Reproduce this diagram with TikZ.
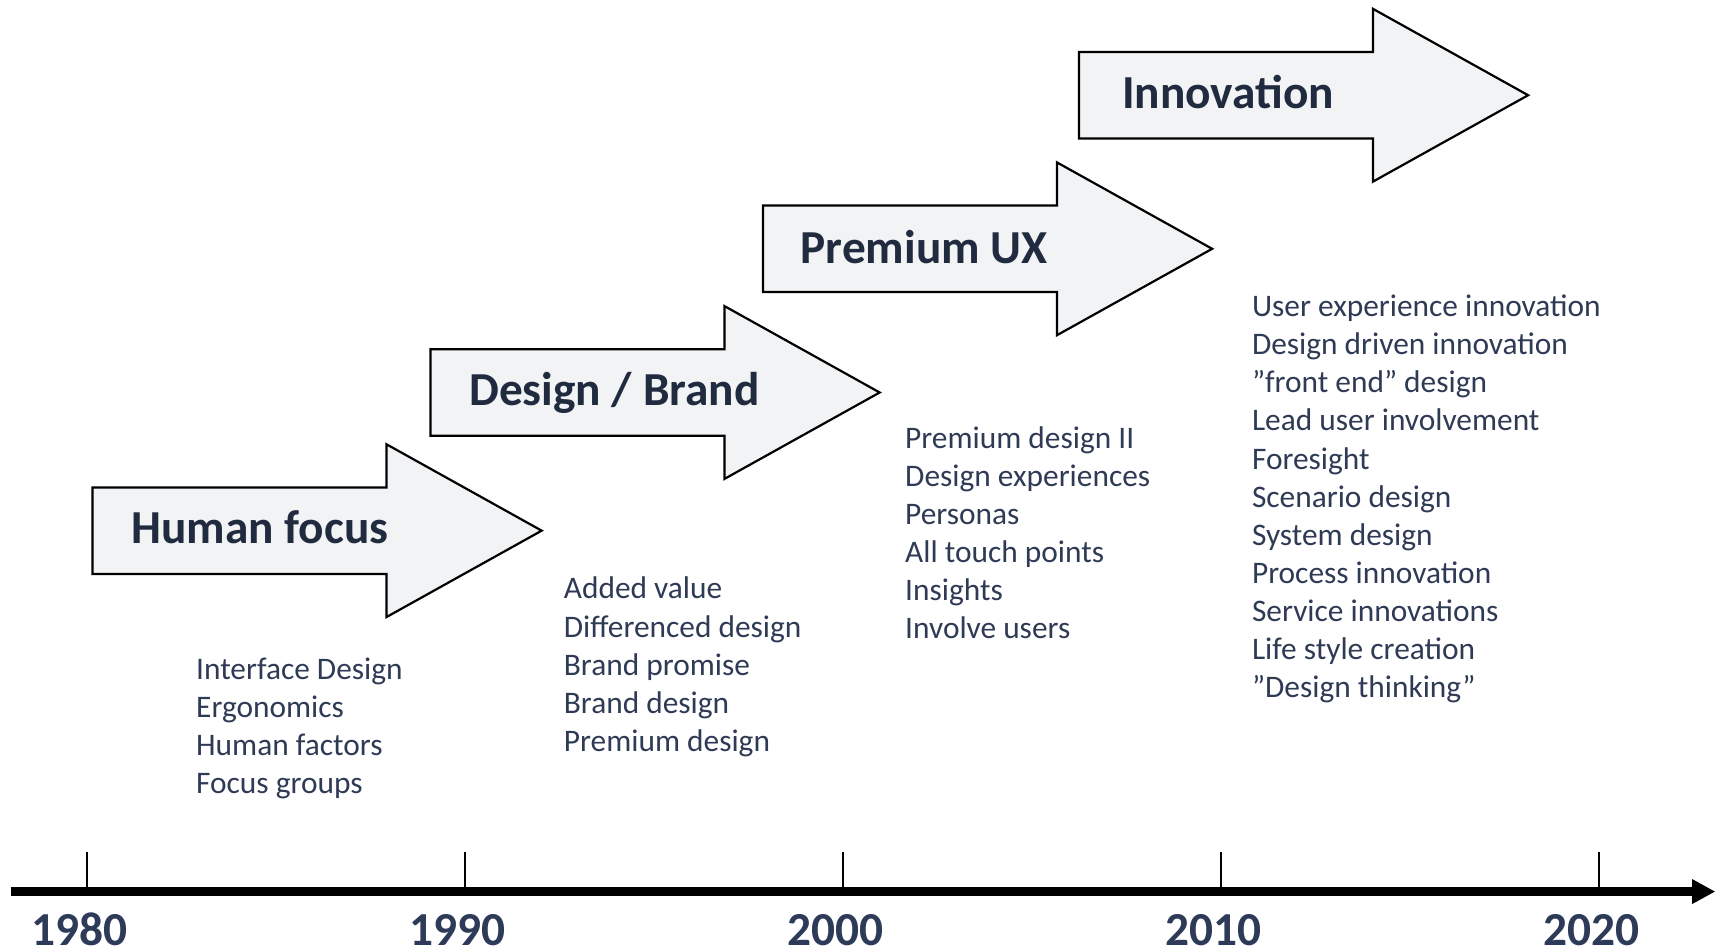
\documentclass[tikz,border=0pt]{standalone}
\usepackage{fontspec}
\setmainfont{Carlito}
\usetikzlibrary{arrows.meta}
\definecolor{arrowfill}{RGB}{242,243,245}
\definecolor{titlecol}{RGB}{33,43,64}
\definecolor{listcol}{RGB}{47,58,85}
\definecolor{yearcol}{RGB}{45,58,88}
\begin{document}
\begin{tikzpicture}[x=1pt,y=-1pt,
  arrowbox/.style={draw=black, line width=2pt, fill=arrowfill, line join=miter},
  titletext/.style={anchor=base west, inner sep=0pt, text=titlecol, font=\fontsize{43}{52}\selectfont\bfseries},
  itemlist/.style={anchor=base west, inner sep=0pt, text=listcol, font=\fontsize{28.5}{34.6}\selectfont},
  yeartext/.style={anchor=base, inner sep=0pt, text=yearcol, font=\fontsize{43}{52}\selectfont\bfseries},
  ticklinestyle/.style={line width=1.8pt},
  axisline/.style={line width=7.5pt, -{Triangle[length=21pt,width=21pt]}},
  bigarrow/.pic={\draw[arrowbox] (0,-39.3) -- (267,-39.3) -- (267,-78.5) -- (408,0) -- (267,78.5) -- (267,39.3) -- (0,39.3) -- cycle;}]
\useasboundingbox (0,0) rectangle (1565,864);

% arrows
\pic at (84,482) {bigarrow};
\pic at (391,356.5) {bigarrow};
\pic at (693,226) {bigarrow};
\pic at (980,86.5) {bigarrow};

\node[titletext] (t1) at (119,493.8) {Human focus};
\node[titletext] (t2) at (426,368.5) {Design / Brand};
\node[titletext] (t3) at (727,239) {Premium UX};
\node[titletext] (t4) at (1019,98.5) {Innovation};

% lists
\node[itemlist] (l1) at (178,617) {\begin{tabular}[t]{@{}l@{}}Interface Design\\Ergonomics\\Human factors\\Focus groups\end{tabular}};
\node[itemlist] (l2) at (512,544) {\begin{tabular}[t]{@{}l@{}}Added value\\Differenced design\\Brand promise\\Brand design\\Premium design\end{tabular}};
\node[itemlist] (l3) at (822,407) {\begin{tabular}[t]{@{}l@{}}Premium design II\\Design experiences\\Personas\\All touch points\\Insights\\Involve users\end{tabular}};
\node[itemlist] (l4) at (1137,287.6) {\begin{tabular}[t]{@{}l@{}}User experience innovation\\Design driven innovation\\”front end” design\\Lead user involvement\\Foresight\\Scenario design\\System design\\Process innovation\\Service innovations\\Life style creation\\”Design thinking”\end{tabular}};

% timeline
\foreach \yr [count=\i from 0] in {1980,1990,2000,2010,2020} {
  \coordinate (tb\i) at ({79.2+343.3*\i},810);
  \coordinate (tt\i) at ({79.2+343.3*\i},774);
  \draw[ticklinestyle] (tt\i) -- (tb\i);
  \node[yeartext] (y\i) at ({72.2+343.3*\i},859) {\yr};
}
\coordinate (axL) at (10.4,809.8);
\coordinate (axR) at (1558,809.8);
\draw[axisline] (axL) -- (axR);
\end{tikzpicture}
\end{document}
